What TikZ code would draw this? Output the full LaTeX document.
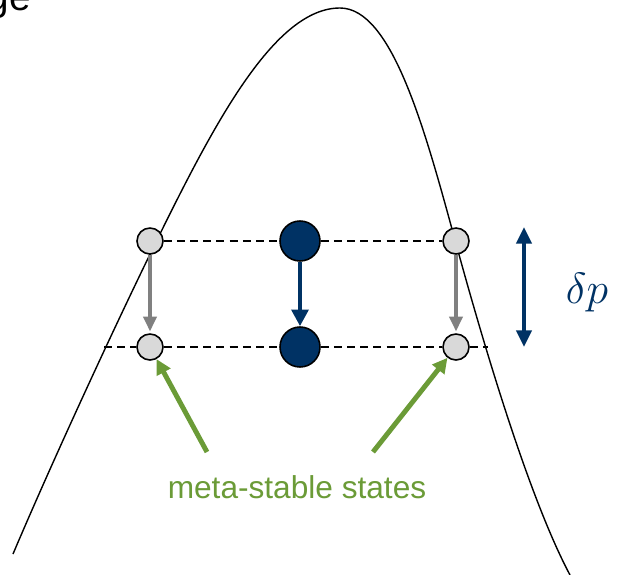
\documentclass[tikz,border=0pt]{standalone}
\usepackage{fontspec}
\setsansfont{Liberation Sans}
\usetikzlibrary{arrows.meta}
\definecolor{navy}{RGB}{0,50,100}
\definecolor{stategrey}{RGB}{217,217,217}
\definecolor{dropgrey}{RGB}{128,128,128}
\definecolor{metagreen}{RGB}{107,155,55}

\begin{document}
\begin{tikzpicture}[x=0.02cm,y=-0.02cm,
    every node/.style={font=\sffamily},
    grey state/.style={circle,draw=black,line width=0.9pt,fill=stategrey,
      minimum size=0.52cm,inner sep=0pt},
    navy state/.style={circle,draw=black,line width=0.9pt,fill=navy,
      minimum size=0.8cm,inner sep=0pt},
    level/.style={line width=1.1pt,dash pattern=on 4.5pt off 3pt},
    drop/.style={line width=2.5pt,-{Triangle[length=8.5pt,width=7.5pt]}},
    pointer/.style={metagreen,line width=2.8pt,-{Triangle[length=8.5pt,width=8.5pt]}}]
  \useasboundingbox (0,0) rectangle (619,575);
  % cut-off title
  \node[anchor=base east,inner sep=0pt,font=\sffamily\fontsize{22}{26}\selectfont]
    (title) at (31,10) {ge};
  % energy landscape
  \draw[line width=0.8pt] (13,554) .. controls (55,455) and (120,315) .. (157,240)
    .. controls (215,122) and (275,8) .. (340,8)
    .. controls (392,8) and (425,130) .. (455,240)
    .. controls (485,350) and (530,500) .. (570,575);
  % states before and after the shift
  \node[grey state] (lu) at (150,241) {};
  \node[navy state] (cu) at (300,241) {};
  \node[grey state] (ru) at (456,241) {};
  \node[grey state] (ld) at (150,347) {};
  \node[navy state] (cd) at (300,347) {};
  \node[grey state] (rd) at (456,347) {};
  % dashed levels
  \coordinate (lend) at (104,347);
  \coordinate (rend) at (488,347);
  \draw[level] (lu) -- (cu) -- (ru);
  \draw[level] (lend) -- (ld) -- (cd) -- (rd) -- (rend);
  % downward shifts
  \draw[drop,dropgrey,shorten >=1pt] (lu) -- (ld);
  \draw[drop,dropgrey,shorten >=1pt] (ru) -- (rd);
  \draw[drop,navy,-{Triangle[length=9.5pt,width=9.5pt]}] (cu) -- (cd);
  % size of the shift
  \coordinate (dptop) at (524,227);
  \coordinate (dpbot) at (524,347);
  \draw[navy,line width=2.3pt,{Triangle[length=9.5pt,width=8.5pt]}-{Triangle[length=9.5pt,width=8.5pt]}]
    (dptop) -- (dpbot);
  \node[navy,font=\fontsize{28}{32}\selectfont] (dp) at (587,293) {$\delta p$};
  % label
  \coordinate (ltail) at (207,452);
  \coordinate (rtail) at (373,452);
  \draw[pointer] (ltail) -- (ld);
  \draw[pointer] (rtail) -- (rd);
  \node[metagreen,font=\sffamily\fontsize{18}{22}\selectfont] (meta) at (297,487)
    {meta-stable states};
\end{tikzpicture}
\end{document}
